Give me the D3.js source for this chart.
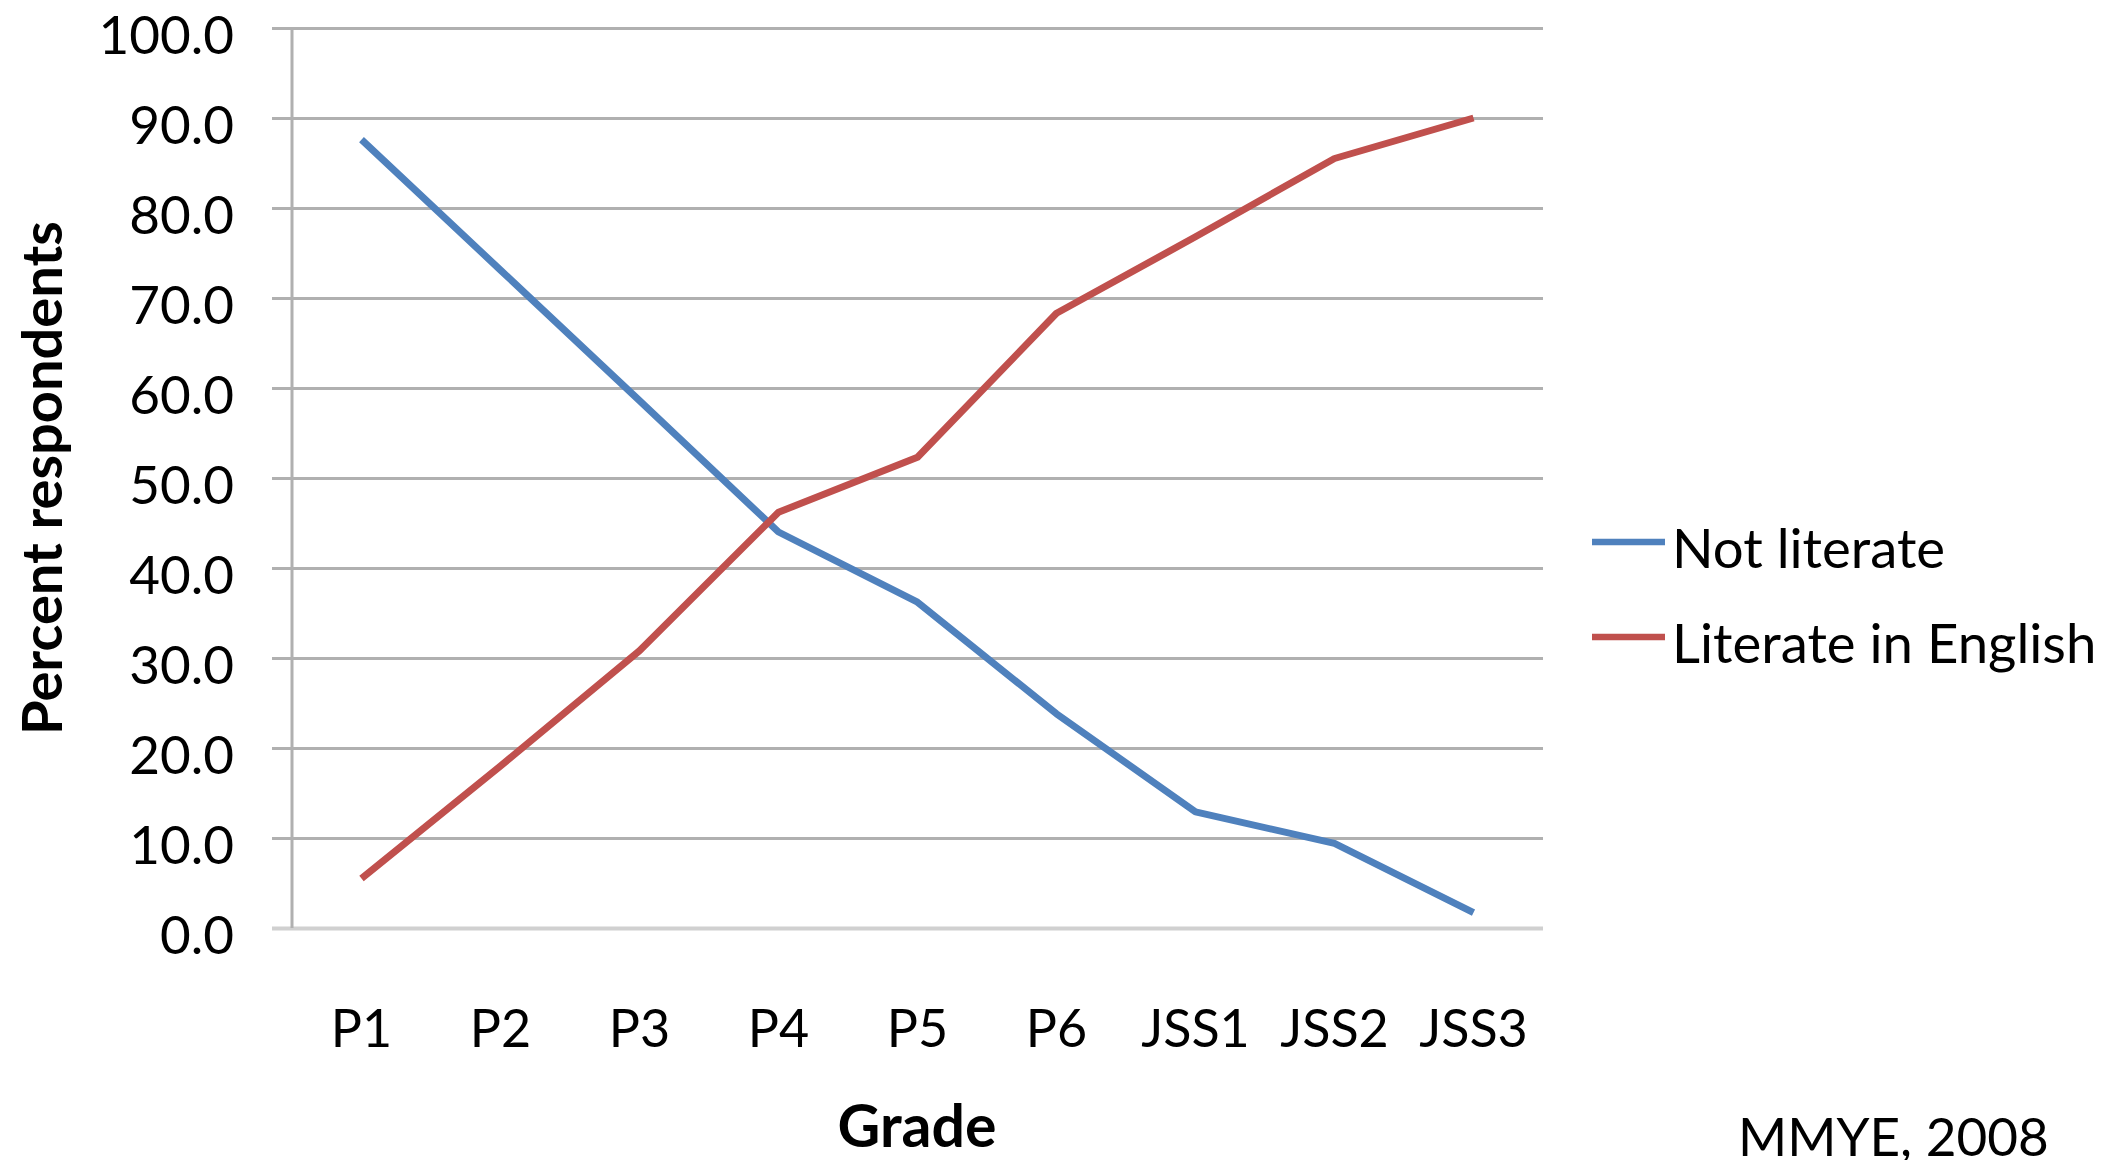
<!DOCTYPE html>
<html>
<head>
<meta charset="utf-8">
<script src="https://cdn.jsdelivr.net/npm/d3@7"></script>
<style>
  body { margin: 0; background: #fff; }
  svg { display: block; }
  svg text { font-family: Lato, "Open Sans", sans-serif; }
</style>
</head>
<body>
<div class="chart-wrapper"></div>
<script>
// data
const grades = ['P1', 'P2', 'P3', 'P4', 'P5', 'P6', 'JSS1', 'JSS2', 'JSS3'];
const notLiterate = [87.6, 73.1, 58.6, 44.0, 36.2, 23.8, 12.9, 9.4, 1.7];
const literateEnglish = [5.5, 18.0, 30.8, 46.2, 52.3, 68.3, 76.8, 85.5, 90.0];
const yTicks = [0, 10, 20, 30, 40, 50, 60, 70, 80, 90, 100];
const seriesNames = ['Not literate', 'Literate in English'];
const seriesColors = ['#4F81BD', '#C0504D'];

const W = 2115, H = 1160;
const margin = { top: 28, right: 572, bottom: 232, left: 292 };

const svg = d3.select('.chart-wrapper')
  .append('svg')
  .attr('width', W)
  .attr('height', H);

const XScale = d3.scaleBand()
  .domain(grades)
  .range([margin.left, W - margin.right]);

const YScale = d3.scaleLinear()
  .domain([0, 100])
  .range([H - margin.bottom, margin.top]);

const tickOut = 20;

// gridlines + y labels
const yAxis = d3.axisLeft(YScale)
  .tickValues(yTicks)
  .tickSize(-(W - margin.right - margin.left + tickOut))
  .tickPadding(38)
  .tickFormat(d3.format('.1f'));

const gy = svg.append('g')
  .attr('class', 'y-axis')
  .attr('transform', 'translate(' + (margin.left - tickOut) + ',0)')
  .call(yAxis)
  .attr('font-family', null)
  .attr('font-size', null);

gy.select('.domain').remove();
gy.selectAll('.tick line')
  .attr('stroke', d => d === 0 ? '#D0D0D0' : '#B0B0B0')
  .attr('stroke-width', d => d === 0 ? 4 : 3);
gy.selectAll('.tick text')
  .attr('dy', 25)
  .attr('fill', '#000')
  .style('font-size', '53px');

// vertical axis line
svg.append('line')
  .attr('x1', margin.left).attr('x2', margin.left)
  .attr('y1', YScale(100)).attr('y2', YScale(0))
  .attr('stroke', '#B0B0B0')
  .attr('stroke-width', 3);

// x labels
const xAxis = d3.axisBottom(XScale).tickSize(0);
const gx = svg.append('g')
  .attr('class', 'x-axis')
  .attr('transform', 'translate(0,' + YScale(0) + ')')
  .call(xAxis)
  .attr('font-family', null)
  .attr('font-size', null);
gx.select('.domain').remove();
gx.selectAll('.tick text')
  .attr('y', 119)
  .attr('dy', null)
  .attr('fill', '#000')
  .style('font-size', '52px');

// lines
const line = d3.line()
  .x((d, i) => XScale(grades[i]) + XScale.bandwidth() / 2)
  .y(d => YScale(d));

[notLiterate, literateEnglish].forEach(function (vals, k) {
  svg.append('path')
    .datum(vals)
    .attr('fill', 'none')
    .attr('stroke', seriesColors[k])
    .attr('stroke-width', 7)
    .attr('stroke-linejoin', 'round')
    .attr('d', line);
});

// axis titles
svg.append('text')
  .attr('x', 917)
  .attr('y', 1147)
  .attr('text-anchor', 'middle')
  .style('font-size', '59px')
  .style('font-weight', '700')
  .text('Grade');

svg.append('text')
  .attr('transform', 'translate(62,' + ((YScale(0) + YScale(100)) / 2) + ') rotate(-90)')
  .attr('text-anchor', 'middle')
  .style('font-size', '56px')
  .style('font-weight', '700')
  .text('Percent respondents');

// legend
const legend = svg.append('g').attr('class', 'legend');
seriesNames.forEach(function (name, k) {
  const ly = 542 + k * 95;
  legend.append('line')
    .attr('x1', 1592).attr('x2', 1665)
    .attr('y1', ly).attr('y2', ly)
    .attr('stroke', seriesColors[k])
    .attr('stroke-width', 6.5);
  legend.append('text')
    .attr('x', 1672)
    .attr('y', ly + 26)
    .style('font-size', '54.5px')
    .text(name);
});

// source note
svg.append('text')
  .attr('x', 1738)
  .attr('y', 1156)
  .style('font-size', '53px')
  .text('MMYE, 2008');
</script>
</body>
</html>
